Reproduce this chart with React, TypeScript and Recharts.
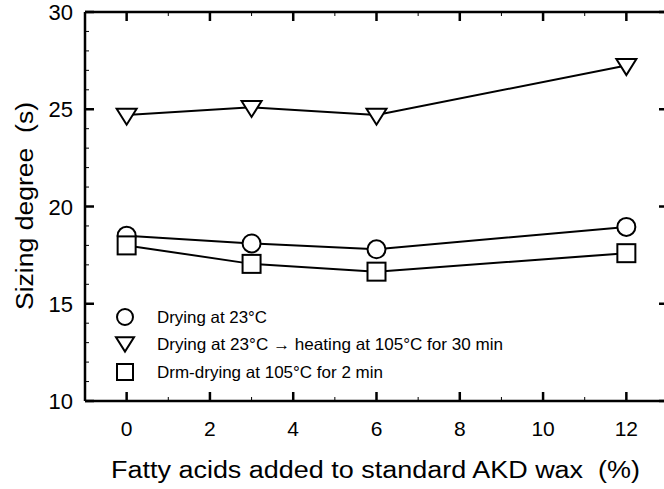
import React from "react";
import { LineChart, Line, XAxis, YAxis, Customized } from "recharts";

// fatty acid addition (%) and sizing degree (s)
const fattyAcids = [0, 3, 6, 12];
const dryingRoom = [18.5, 18.1, 17.8, 18.95];
const dryingHeated = [24.7, 25.1, 24.7, 27.25];
const drumDrying = [18.0, 17.05, 16.65, 17.6];

const xTicks = [-1, 0, 1, 2, 3, 4, 5, 6, 7, 8, 9, 10, 11, 12, 13];
const xMajor = [0, 2, 4, 6, 8, 10, 12];
const yTicks = [10, 11, 12, 13, 14, 15, 16, 17, 18, 19, 20, 21, 22, 23, 24, 25, 26, 27, 28, 29, 30];
const yMajor = [10, 15, 20, 25, 30];

const legendLabels = [
  "Drying at 23°C",
  "Drying at 23°C → heating at 105°C for 30 min",
  "Drm-drying at 105°C for 2 min",
];
const legendWidths = [110, 346, 226];

const data = fattyAcids.map((x, i) => ({
  x,
  room: dryingRoom[i],
  heated: dryingHeated[i],
  drum: drumDrying[i],
}));

const FONT = '"Liberation Sans", Arial, Helvetica, sans-serif';
const INK = "#000";

function CircleMark({ cx, cy, r = 9 }: any) {
  if (cx == null || cy == null) return null;
  return <circle cx={cx} cy={cy} r={r} fill="#fff" stroke={INK} strokeWidth={2} />;
}

function TriangleMark({ cx, cy, s = 10 }: any) {
  if (cx == null || cy == null) return null;
  const h = s * 1.6;
  const pts = `${cx - s},${cy - h * 0.4} ${cx + s},${cy - h * 0.4} ${cx},${cy + h * 0.6}`;
  return <polygon points={pts} fill="#fff" stroke={INK} strokeWidth={2} strokeLinejoin="miter" />;
}

function SquareMark({ cx, cy, s = 9 }: any) {
  if (cx == null || cy == null) return null;
  return <rect x={cx - s} y={cy - s} width={s * 2} height={s * 2} fill="#fff" stroke={INK} strokeWidth={2} />;
}

// tickSize=0, tickMargin=0: (x, y) sits on the axis line
function BottomTick({ x, y, payload }: any) {
  const major = xMajor.includes(payload.value);
  if (payload.value < 0 || payload.value > 12.5) return null;
  return (
    <g>
      <line x1={x} y1={y} x2={x} y2={y - (major ? 9 : 4)} stroke={INK} strokeWidth={major ? 2.5 : 1} />
      {major && (
        <text x={x} y={y + 35} textAnchor="middle" fontSize={21} fontFamily={FONT} fill={INK}>
          {payload.value}
        </text>
      )}
    </g>
  );
}

function TopTick({ x, y, payload }: any) {
  const major = xMajor.includes(payload.value);
  if (payload.value < 0 || payload.value > 12.5) return null;
  return <line x1={x} y1={y} x2={x} y2={y + (major ? 9 : 4)} stroke={INK} strokeWidth={major ? 2.5 : 1} />;
}

function LeftTick({ x, y, payload }: any) {
  const major = yMajor.includes(payload.value);
  return (
    <g>
      <line x1={x} y1={y} x2={x + (major ? 9 : 4)} y2={y} stroke={INK} strokeWidth={major ? 2.5 : 1} />
      {major && (
        <text x={x - 12} y={y + 8} textAnchor="end" fontSize={22} fontFamily={FONT} fill={INK}>
          {payload.value}
        </text>
      )}
    </g>
  );
}

function RightTick({ x, y, payload }: any) {
  const major = yMajor.includes(payload.value);
  return <line x1={x} y1={y} x2={x - (major ? 9 : 4)} y2={y} stroke={INK} strokeWidth={major ? 2.5 : 1} />;
}

function Decorations() {
  const rows = [317, 344, 372];
  return (
    <g fontFamily={FONT} fill={INK}>
      <CircleMark cx={125} cy={rows[0]} r={8} />
      <TriangleMark cx={125} cy={rows[1] - 1} s={9} />
      <SquareMark cx={125} cy={rows[2]} s={8} />
      {legendLabels.map((t, i) => (
        <text key={t} x={157} y={rows[i] + 6} fontSize={16.5} textLength={legendWidths[i]} lengthAdjust="spacingAndGlyphs">
          {t}
        </text>
      ))}
      <text x={111} y={478} fontSize={23} textLength={529} lengthAdjust="spacingAndGlyphs">
        {"Fatty acids added to standard AKD wax\u00a0 (%)"}
      </text>
      <text
        x={0}
        y={0}
        fontSize={23}
        textLength={208}
        lengthAdjust="spacingAndGlyphs"
        transform="translate(33,310) rotate(-90)"
      >
        {"Sizing degree\u00a0 (s)"}
      </text>
    </g>
  );
}

export default function App() {
  return (
    <div style={{ position: "absolute", left: 0, top: 0, width: 664, height: 489, overflow: "hidden", background: "#fff" }}>
      <LineChart width={670} height={489} data={data} margin={{ top: 2, right: 0, bottom: 58, left: 25 }}>
        <XAxis
          xAxisId="bottom"
          dataKey="x"
          type="number"
          domain={[-1, 13]}
          ticks={xTicks}
          interval={0}
          height={30}
          tickSize={0}
          tickMargin={0}
          tickLine={false}
          tick={<BottomTick />}
          axisLine={{ stroke: INK, strokeWidth: 2.5 }}
          allowDataOverflow
        />
        <XAxis
          xAxisId="top"
          orientation="top"
          dataKey="x"
          type="number"
          domain={[-1, 13]}
          ticks={xTicks}
          interval={0}
          height={10}
          tickSize={0}
          tickMargin={0}
          tickLine={false}
          tick={<TopTick />}
          axisLine={{ stroke: INK, strokeWidth: 2.5 }}
          allowDataOverflow
        />
        <YAxis
          yAxisId="left"
          type="number"
          domain={[10, 30]}
          ticks={yTicks}
          interval={0}
          width={60}
          tickSize={0}
          tickMargin={0}
          tickLine={false}
          tick={<LeftTick />}
          axisLine={{ stroke: INK, strokeWidth: 2.5 }}
          allowDataOverflow
        />
        <YAxis
          yAxisId="right"
          orientation="right"
          type="number"
          domain={[10, 30]}
          ticks={yTicks}
          interval={0}
          width={2}
          tickSize={0}
          tickMargin={0}
          tickLine={false}
          tick={<RightTick />}
          axisLine={{ stroke: INK, strokeWidth: 2.5 }}
          allowDataOverflow
        />
        <Line
          xAxisId="bottom"
          yAxisId="left"
          dataKey="room"
          type="linear"
          stroke={INK}
          strokeWidth={2}
          dot={(p: any) => <CircleMark key={`c${p.index}`} cx={p.cx} cy={p.cy} />}
          isAnimationActive={false}
        />
        <Line
          xAxisId="bottom"
          yAxisId="left"
          dataKey="heated"
          type="linear"
          stroke={INK}
          strokeWidth={2}
          dot={(p: any) => <TriangleMark key={`t${p.index}`} cx={p.cx} cy={p.cy} />}
          isAnimationActive={false}
        />
        <Line
          xAxisId="bottom"
          yAxisId="left"
          dataKey="drum"
          type="linear"
          stroke={INK}
          strokeWidth={2}
          dot={(p: any) => <SquareMark key={`s${p.index}`} cx={p.cx} cy={p.cy} />}
          isAnimationActive={false}
        />
        <Customized component={Decorations} />
      </LineChart>
    </div>
  );
}
